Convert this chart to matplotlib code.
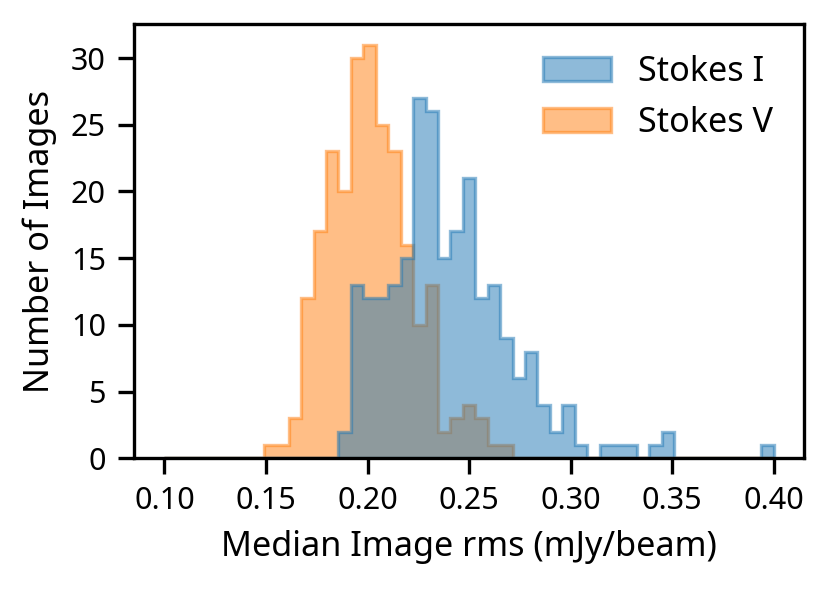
import numpy as np
import matplotlib.pyplot as plt

plt.rcParams['font.family'] = ['Noto Sans', 'DejaVu Sans']

# common bin edges (0.1 .. 0.4 mJy/beam, 49 bins)
bin_lo, bin_hi, n_edges = 0.10, 0.40, 50

# counts per bin
# Stokes I occupies bins 14..48
stokes_i_first_bin = 14
stokes_i_counts = [2, 13, 12, 12, 13, 15, 27, 26, 15, 17, 21, 12, 13, 9, 6,
                   8, 4, 2, 4, 1, 0, 1, 1, 1, 0, 1, 2, 0, 0, 0, 0, 0, 0, 0, 1]
# Stokes V occupies bins 8..27
stokes_v_first_bin = 8
stokes_v_counts = [1, 1, 3, 12, 17, 23, 20, 30, 31, 25, 23, 16, 10, 13, 2,
                   3, 4, 3, 1, 1]

labels = ['Stokes I', 'Stokes V']
xlabel = 'Median Image rms (mJy/beam)'
ylabel = 'Number of Images'


def bin_weights(first_bin, counts, n_bins):
    '''expand a run of counts into a full-length weight array
    '''
    w = np.zeros(n_bins)
    w[first_bin:first_bin + len(counts)] = counts
    return w


bins = np.linspace(bin_lo, bin_hi, n_edges)
centers = 0.5 * (bins[:-1] + bins[1:])
n_bins = len(centers)
w_i = bin_weights(stokes_i_first_bin, stokes_i_counts, n_bins)
w_v = bin_weights(stokes_v_first_bin, stokes_v_counts, n_bins)

fig, ax = plt.subplots(figsize=(829 / 200, 596 / 200), dpi=200)
fig.subplots_adjust(left=0.1616, right=0.970, top=0.9597, bottom=0.231)

_, _, patches = ax.hist([centers, centers], bins=bins, weights=[w_i, w_v],
                        histtype='stepfilled', alpha=0.5, color=['C0', 'C1'],
                        label=labels)
handles = []
for p, c in zip(patches, ['C0', 'C1']):
    poly = p[0]
    poly.set_edgecolor(c)
    poly.set_linewidth(1.2)
    handles.append(poly)

ax.set_xticks([0.10, 0.15, 0.20, 0.25, 0.30, 0.35, 0.40])
ax.set_yticks([0, 5, 10, 15, 20, 25, 30])
ax.tick_params(labelsize=11, length=5.6, width=1.2, pad=4.5)
for sp in ax.spines.values():
    sp.set_linewidth(1.2)
ax.set_xlabel(xlabel, fontsize=12.3, labelpad=5)
ax.set_ylabel(ylabel, fontsize=12.3, labelpad=5)
ax.legend(handles, labels, frameon=False, fontsize=12.3, loc='upper right')

fig.savefig('out.png', dpi=200)
